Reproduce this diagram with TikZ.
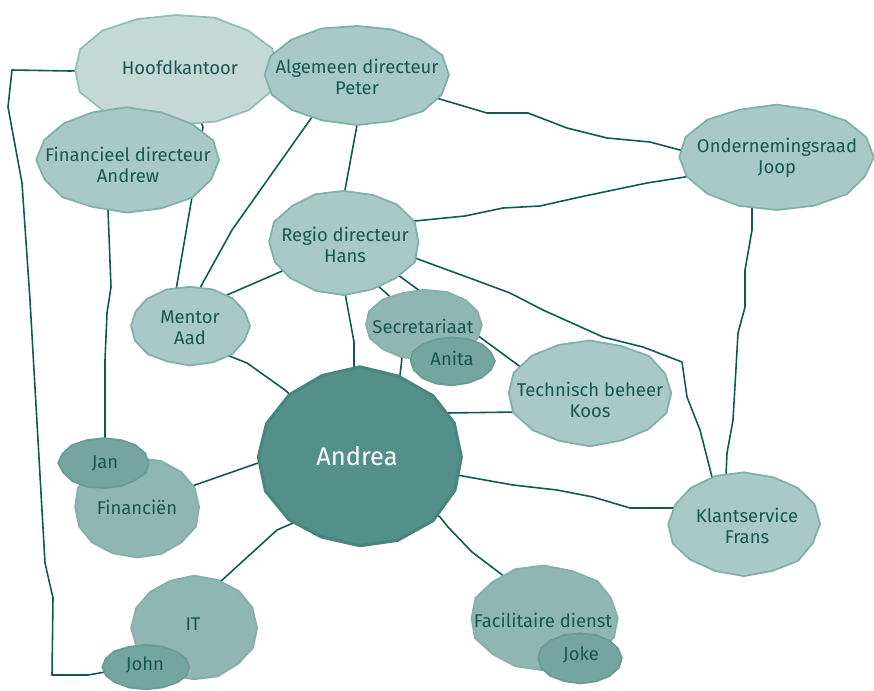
\documentclass[tikz,border=0pt]{standalone}
\usepackage{fontspec}
\setmainfont{Fira Sans}
\pgfdeclarelayer{background}
\pgfsetlayers{background,main}

\definecolor{linkgreen}{HTML}{0E5A51}
\definecolor{textgreen}{HTML}{17574F}
\definecolor{lightfill}{HTML}{C4D9D6}
\definecolor{lightline}{HTML}{93BDB7}
\definecolor{palefill}{HTML}{A9C9C6}
\definecolor{paleline}{HTML}{80B0AA}
\definecolor{midfill}{HTML}{8FB6B1}
\definecolor{midline}{HTML}{86AFAA}
\definecolor{darkfill}{HTML}{74A59F}
\definecolor{darkline}{HTML}{6A9B95}
\definecolor{corefill}{HTML}{53908A}
\definecolor{coreline}{HTML}{4A867F}

% outline of one unit: centre, x radius, y radius, style
\newcommand\unitshape[4]{%
  \draw[#4, shift={#1}] plot[domain=0:337.5, samples=16]
    ({#2*cos(\x)*(1+0.025*rand)}, {#3*sin(\x)*(1+0.025*rand)}) -- cycle;
}

\begin{document}
\begin{tikzpicture}[x=0.02cm, y=-0.02cm,
    light/.style={fill=lightfill, draw=lightline, line width=1pt},
    pale/.style={fill=palefill, draw=paleline, line width=1pt},
    mid/.style={fill=midfill, draw=midline, line width=1pt},
    dark/.style={fill=darkfill, draw=darkline, line width=1pt},
    core/.style={fill=corefill, draw=coreline, line width=1.8pt},
    unit/.style={text=textgreen, align=center, font=\fontsize{10.5}{12}\selectfont},
    link/.style={draw=linkgreen, line width=0.9pt, line join=round}]
  \pgfmathsetseed{42}
  \useasboundingbox (0,0) rectangle (874,690);

  \unitshape{(176,70)}{103}{56}{light}
  \node[unit] (hoofd) at (180,68) {Hoofdkantoor};
  \unitshape{(357,75)}{92}{50}{pale}
  \node[unit] (peter) at (357,77) {Algemeen directeur\\Peter};
  \unitshape{(127,160)}{91}{52}{pale}
  \node[unit] (andrew) at (128,165) {Financieel directeur\\Andrew};
  \unitshape{(777,157)}{97}{52}{pale}
  \node[unit] (joop) at (777,158) {Ondernemingsraad\\Joop};
  \unitshape{(344,242)}{75}{52}{pale}
  \node[unit] (hans) at (345,245) {Regio directeur\\Hans};
  \unitshape{(190,326)}{60}{39}{pale}
  \node[unit] (aad) at (190,328) {Mentor\\Aad};
  \unitshape{(590,393)}{82}{52}{pale}
  \node[unit] (koos) at (590,400) {Technisch beheer\\Koos};
  \unitshape{(424,325)}{59}{35}{mid}
  \node[unit] (secr) at (423,326) {Secretariaat};
  \unitshape{(360,457)}{101}{88}{core}
  \node[unit, text=white, font=\fontsize{14.5}{16}\selectfont] (andrea) at (357,456) {Andrea};
  \unitshape{(452,361)}{42}{24}{dark}
  \node[unit] (anita) at (452,358) {Anita};
  \unitshape{(137,507)}{63}{50}{mid}
  \node[unit] (fin) at (137,507) {Financiën};
  \unitshape{(104,463)}{45}{25}{dark}
  \node[unit] (jan) at (105,463) {Jan};
  \unitshape{(194,628)}{63}{52}{mid}
  \node[unit] (it) at (193,624) {IT};
  \unitshape{(146,667)}{44}{22}{dark}
  \node[unit] (john) at (145,665) {John};
  \unitshape{(744,524)}{76}{51}{pale}
  \node[unit] (frans) at (747,526) {Klantservice\\Frans};
  \unitshape{(544,618)}{74}{52}{mid}
  \node[unit] (facil) at (543,620) {Facilitaire dienst};
  \unitshape{(580,658)}{42}{25}{dark}
  \node[unit] (joke) at (581,655) {Joke};

  % hand drawn lines, kept behind the units
  \begin{pgfonlayer}{background}
    \draw[link] (hoofd.center) -- (70,71) -- (12,70) -- (8,107) -- (22,183) -- (30,300)
      -- (45,563) -- (53,598) -- (52,675) -- (88,675) -- (john.center);
    \draw[link] (hoofd.center) -- (203,127) -- (192,197) -- (176,290) -- (aad.center);
    \draw[link] (andrew.center) -- (108,210) -- (111,287) -- (107,313) -- (105,360) -- (jan.center);
    \draw[link] (peter.center) -- (312,117) -- (232,230) -- (200,288) -- (aad.center);
    \draw[link] (peter.center) -- (357,125) -- (345,190) -- (hans.center);
    \draw[link] (peter.center) -- (433,97) -- (487,113) -- (528,113) -- (567,128) -- (607,138)
      -- (650,142) -- (680,150) -- (joop.center);
    \draw[link] (hans.center) -- (415,221) -- (465,216) -- (503,208) -- (540,206) -- (580,197)
      -- (647,183) -- (685,177) -- (joop.center);
    \draw[link] (hans.center) -- (415,258) -- (475,280) -- (510,293) -- (543,310) -- (603,337)
      -- (643,347) -- (682,362) -- (687,397) -- (700,430) -- (712,477) -- (frans.center);
    \draw[link] (joop.center) -- (752,208) -- (752,230) -- (745,270) -- (745,307) -- (738,333)
      -- (733,420) -- (727,453) -- (726,475) -- (frans.center);
    \draw[link] (hans.center) -- (280,272) -- (227,295) -- (aad.center);
    \draw[link] (hans.center) -- (345,293) -- (354,342) -- (354,369) -- (andrea.center);
    \draw[link] (hans.center) -- (377,285) -- (secr.center);
    \draw[link] (hans.center) -- (398,275) -- (420,291) -- (anita.center);
    \draw[link] (secr.center) -- (477,335) -- (522,368) -- (koos.center);
    \draw[link] (secr.center) -- (402,358) -- (400,375) -- (andrea.center);
    \draw[link] (andrea.center) -- (447,413) -- (517,412) -- (koos.center);
    \draw[link] (aad.center) -- (227,355) -- (247,363) -- (285,390) -- (andrea.center);
    \draw[link] (fin.center) -- (195,485) -- (258,463) -- (andrea.center);
    \draw[link] (it.center) -- (220,582) -- (277,530) -- (293,523) -- (andrea.center);
    \draw[link] (andrea.center) -- (457,475) -- (513,485) -- (557,490) -- (593,497) -- (630,508)
      -- (675,508) -- (frans.center);
    \draw[link] (andrea.center) -- (440,517) -- (448,527) -- (472,552) -- (505,577) -- (facil.center);
  \end{pgfonlayer}
\end{tikzpicture}
\end{document}
